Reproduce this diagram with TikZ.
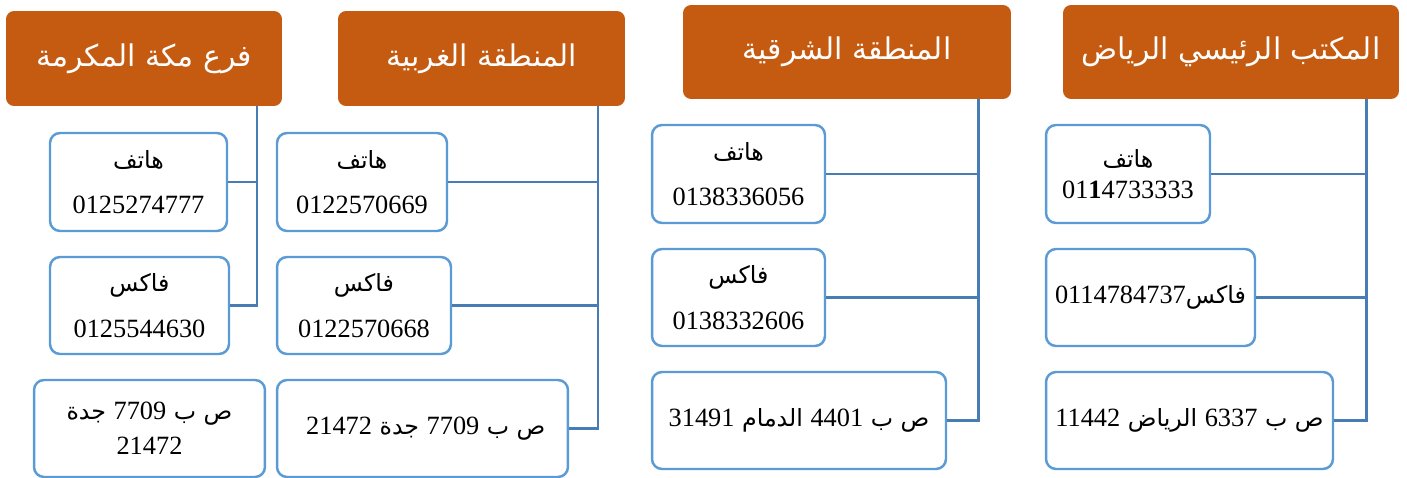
\documentclass[tikz,border=0pt]{standalone}
\usepackage{fontspec}
\setmainfont{Liberation Serif}
\newfontfamily\arabicfont[Script=Arabic]{DejaVu Sans}
\TeXXeTstate=1
\definecolor{hdrorange}{RGB}{197,90,17}
\definecolor{boxblue}{RGB}{91,155,213}
\definecolor{lineblue}{RGB}{72,124,180}
\newcommand{\artxt}[1]{{\arabicfont\fontsize{13.5}{26}\selectfont #1}}
\newcommand{\ltrnum}[1]{\beginL #1\endL}
\begin{document}
\begin{tikzpicture}[x=0.02cm,y=-0.02cm,
  hdr/.style={fill=hdrorange,rounded corners=0.16cm,inner sep=0pt,minimum height=1.9cm,text=white,font=\arabicfont\fontsize{17}{20}\selectfont},
  infobox/.style={draw=boxblue,line width=1.4pt,fill=white,rounded corners=0.2cm,inner sep=0pt,minimum height=1.94cm,align=center,font=\fontsize{15}{26}\selectfont},
  conn/.style={draw=lineblue,line width=1.7pt}]

\useasboundingbox (0,0) rectangle (1407,477);

\node[hdr,minimum width=5.52cm] (mh) at (144,58.5) {\beginR فرع مكة المكرمة\endR};
\node[hdr,minimum width=5.74cm] (wh) at (481.5,58.5) {\beginR المنطقة الغربية\endR};
\node[hdr,minimum width=6.56cm,minimum height=1.88cm] (eh) at (847,52) {\beginR المنطقة الشرقية\endR};
\node[hdr,minimum width=6.72cm,minimum height=1.88cm] (rh) at (1231,52) {\beginR المكتب الرئيسي الرياض\endR};

\node[infobox,minimum width=3.54cm,minimum height=1.96cm] (mp) at (138.5,182) {\beginR\artxt{هاتف}\endR\\ 0125274777};
\node[infobox,minimum width=3.58cm] (mf) at (139.5,305.5) {\beginR\artxt{فاكس}\endR\\ 0125544630};
\node[infobox,minimum width=4.62cm] (mpo) at (149.5,428.5) {\beginR\artxt{ص ب }\ltrnum{7709}\artxt{ جدة}\endR\\[-6pt] 21472};

\node[infobox,minimum width=3.4cm,minimum height=1.96cm] (wp) at (362,182) {\beginR\artxt{هاتف}\endR\\ 0122570669};
\node[infobox,minimum width=3.48cm] (wf) at (364,305.5) {\beginR\artxt{فاكس}\endR\\ 0122570668};
\node[infobox,minimum width=5.82cm] (wpo) at (422.5,428.5) {\beginR\artxt{ص ب }\ltrnum{7709}\artxt{ جدة }\ltrnum{ 21472}\endR};

\node[infobox,minimum width=3.46cm,minimum height=1.96cm] (ep) at (738.5,174) {\beginR\artxt{هاتف}\endR\\ 0138336056};
\node[infobox,minimum width=3.46cm] (ef) at (738.5,297.5) {\beginR\artxt{فاكس}\endR\\ 0138332606};
\node[infobox,minimum width=5.88cm] (epo) at (799,420.5) {\beginR\artxt{ص ب }\ltrnum{4401}\artxt{ الدمام }\ltrnum{31491}\endR};

\node[infobox,minimum width=3.28cm,minimum height=1.96cm] (rp) at (1128,174) {\beginR\artxt{هاتف}\endR\\[-8pt] 01\textbf{1}4733333};
\node[infobox,minimum width=4.18cm] (rf) at (1150.5,297.5) {\beginR\artxt{فاكس}\ltrnum{0114784737}\endR};
\node[infobox,minimum width=5.74cm] (rpo) at (1189.5,420.5) {\beginR\artxt{ص ب }\ltrnum{6337}\artxt{ الرياض }\ltrnum{11442}\endR};

\coordinate (mt) at (257,106);
\coordinate (wt) at (598,106);
\coordinate (et) at (978,99);
\coordinate (rt) at (1366,99);

\draw[conn] (mt) |- (mf.east);
\draw[conn] (mp.east) -- (mp.east -| mt);

\draw[conn] (wt) |- (wpo.east);
\draw[conn] (wp.east) -- (wp.east -| wt);
\draw[conn] (wf.east) -- (wf.east -| wt);

\draw[conn] (et) |- (epo.east);
\draw[conn] (ep.east) -- (ep.east -| et);
\draw[conn] (ef.east) -- (ef.east -| et);

\draw[conn] (rt) |- (rpo.east);
\draw[conn] (rp.east) -- (rp.east -| rt);
\draw[conn] (rf.east) -- (rf.east -| rt);
\end{tikzpicture}
\end{document}
